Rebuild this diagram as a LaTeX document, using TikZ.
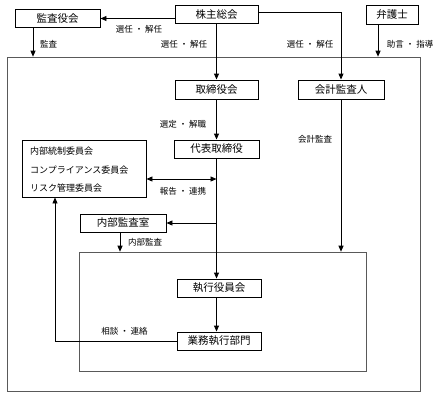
\documentclass[tikz,border=0pt]{standalone}
\usepackage{fontspec}
\setmainfont{Noto Sans CJK JP}
\usetikzlibrary{arrows.meta}
\begin{document}
\begin{tikzpicture}[x=1pt,y=-1pt,
  box/.style={draw,line width=0.9pt,minimum height=18pt,inner sep=0pt,font=\fontsize{10.5}{12}\selectfont},
  frame/.style={draw=black!65,line width=0.6pt,inner sep=0pt},
  tip/.tip={Triangle[length=6pt,width=5pt]},
  arr/.style={line width=0.9pt,-tip},
  darr/.style={line width=0.9pt,tip-tip},
  lbl/.style={font=\fontsize{8.5}{9}\selectfont,inner sep=0pt},
  ctext/.style={font=\fontsize{9}{10}\selectfont,inner sep=0pt,anchor=west},
]
\useasboundingbox (0,0) rectangle (443,397);
% frames
\node[frame,minimum width=413pt,minimum height=334pt] (outer) at (213.5,224) {};
\node[frame,minimum width=287pt,minimum height=119pt] (inner) at (222.5,311.5) {};
% boxes
\node[box,minimum width=85pt] (kansa) at (57.5,18.5) {監査役会};
\node[box,minimum width=83pt] (kabu) at (216.5,14.5) {株主総会};
\node[box,minimum width=52pt,minimum height=19pt] (bengo) at (392,14.5) {弁護士};
\node[box,minimum width=83pt,minimum height=19pt] (tori) at (216.5,89.5) {取締役会};
\node[box,minimum width=86pt,minimum height=19pt] (kaikei) at (341,89.5) {会計監査人};
\node[box,minimum width=85pt] (daihyo) at (216.5,149) {代表取締役};
\node[box,minimum width=124pt,minimum height=57pt] (iinkai) at (84,168.5) {};
\node[ctext] (c1) at (30,151) {内部統制委員会};
\node[ctext] (c2) at (30,170) {コンプライアンス委員会};
\node[ctext] (c3) at (30,188) {リスク管理委員会};
\node[box,minimum width=86pt] (naibu) at (123,223) {内部監査室};
\node[box,minimum width=84pt] (shikko) at (219,288) {執行役員会};
\node[box,minimum width=84pt] (gyomu) at (219,341) {業務執行部門};
% helper coordinates
\coordinate (kansaX) at (33,0);
\coordinate (bengoX) at (378,0);
\coordinate (rep) at (0,179);
\coordinate (naibuX) at (120,0);
\coordinate (consX) at (55,0);
% connectors
\draw[arr] (kabu.west |- kansa.east) -- (kansa.east);
\draw[arr] ([yshift=2.5pt]kabu.east) -| (kaikei.north);
\draw[arr] (kabu.south) -- (tori.north);
\draw[arr] (kansa.south -| kansaX) -- (outer.north -| kansaX);
\draw[arr] (bengo.south -| bengoX) -- (outer.north -| bengoX);
\draw[arr] (tori.south) -- (daihyo.north);
\draw[arr] (kaikei.south) -- (kaikei.south |- inner.north);
\draw[arr] (daihyo.south) -- (daihyo.south |- shikko.north);
\draw[darr] (iinkai.east |- rep) -- (daihyo.south |- rep);
\draw[arr] (daihyo.south |- naibu.east) -- (naibu.east);
\draw[arr] (naibu.south -| naibuX) -- (inner.north -| naibuX);
\draw[arr] (daihyo.south |- shikko.south) -- (daihyo.south |- gyomu.north);
\draw[arr] (gyomu.west) -| (iinkai.south -| consX);
% labels
\node[lbl] (l1) at (139,29) {選任\hspace{2pt}・\hspace{2pt}解任};
\node[lbl,anchor=west] (l2) at (40,44) {監査};
\node[lbl] (l3) at (184,44) {選任\hspace{2pt}・\hspace{2pt}解任};
\node[lbl] (l4) at (310,44) {選任\hspace{2pt}・\hspace{2pt}解任};
\node[lbl] (l5) at (410,44) {助言\hspace{2pt}・\hspace{2pt}指導};
\node[lbl] (l6) at (183,124) {選定\hspace{2pt}・\hspace{2pt}解職};
\node[lbl] (l7) at (315,139) {会計監査};
\node[lbl] (l8) at (183,191) {報告\hspace{2pt}・\hspace{2pt}連携};
\node[lbl] (l9) at (145,242) {内部監査};
\node[lbl] (l10) at (124.5,331) {相談\hspace{2pt}・\hspace{2pt}連絡};
\end{tikzpicture}
\end{document}
